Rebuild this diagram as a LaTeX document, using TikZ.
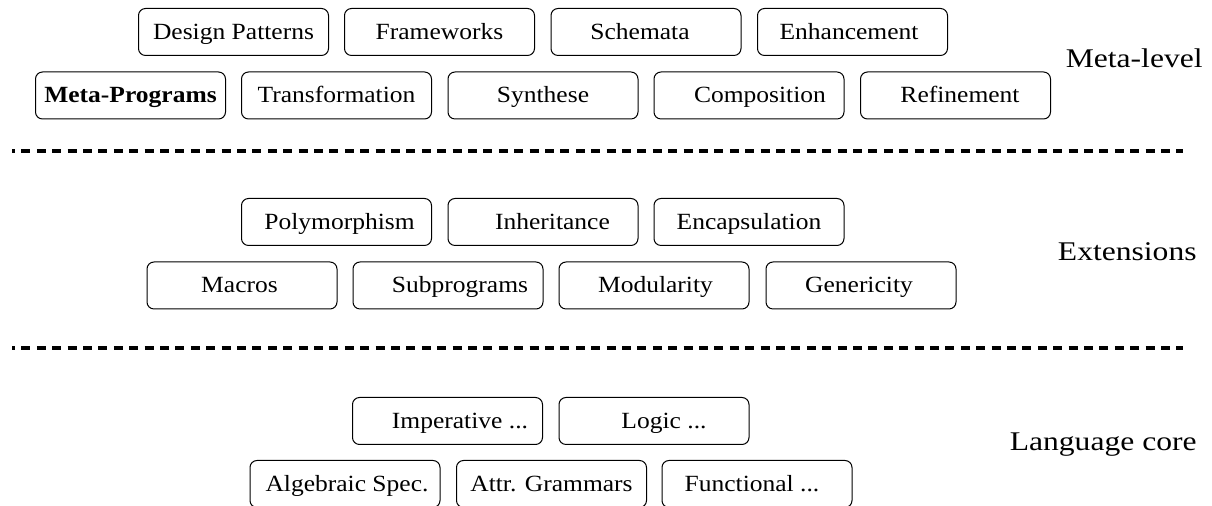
\documentclass[tikz,border=0pt]{standalone}
\usepackage{fontspec}
\usepackage{graphicx}
\setmainfont{Liberation Serif}
% box label: optional horizontal offset, slightly widened text
\newcommand\bx[2][0pt]{\hspace*{#1}\scalebox{1.1}[1]{#2}}
\newcommand\lvl[1]{\scalebox{1.17}[1]{#1}}
\begin{document}
\begin{tikzpicture}[x=0.5pt,y=-0.5pt,
  box/.style={draw, line width=0.5pt, rounded corners=3.5pt,
    minimum width=95pt, minimum height=23.5pt, inner sep=0pt,
    text height=7.5pt, text depth=0pt,
    font=\fontsize{11.6pt}{13pt}\selectfont},
  level/.style={anchor=base east, inner sep=0pt,
    font=\fontsize{13.5pt}{16pt}\selectfont},
  divider/.style={line width=1.6pt, dash pattern=on 4.5pt off 3.2pt, dash phase=3pt}]
\useasboundingbox (0,0) rectangle (1212,506);

% meta-level
\node[box] (dp)  at (233.5,32) {\bx{Design Patterns}};
\node[box] (fw)  at (439.5,32) {\bx{Frameworks}};
\node[box] (sch) at (646,32)   {\bx[-6pt]{Schemata}};
\node[box] (enh) at (852.5,32) {\bx[-3.5pt]{Enhancement}};
\node[box] (mp)  at (130.5,95.5) {\bx{\textbf{Meta-Programs}}};
\node[box] (tr)  at (336.5,95.5) {\bx{Transformation}};
\node[box] (syn) at (543,95.5)   {\bx{Synthese}};
\node[box] (cmp) at (749,95.5)   {\bx[11pt]{Composition}};
\node[box] (ref) at (955.5,95.5) {\bx[4.5pt]{Refinement}};
\node[level] (lmeta) at (1203,68) {\lvl{Meta-level}};

\coordinate (d1a) at (12,151);
\coordinate (d1b) at (1183,151);
\draw[divider] (d1a) -- (d1b);

% extensions
\node[box] (poly) at (336.5,222) {\bx[3pt]{Polymorphism}};
\node[box] (inh)  at (543,222)   {\bx[9.5pt]{Inheritance}};
\node[box] (enc)  at (749,222)   {\bx{Encapsulation}};
\node[box] (mac)  at (242,285.5) {\bx[-2.5pt]{Macros}};
\node[box] (sub)  at (448,285.5) {\bx[12pt]{Subprograms}};
\node[box] (mod)  at (654,285.5) {\bx[1.5pt]{Modularity}};
\node[box] (gen)  at (861,285.5) {\bx[-2pt]{Genericity}};
\node[level] (lext) at (1197,261) {\lvl{Extensions}};

\coordinate (d2a) at (12,348);
\coordinate (d2b) at (1183,348);
\draw[divider] (d2a) -- (d2b);

% language core
\node[box] (imp) at (447.5,421) {\bx[12.5pt]{Imperative ...}};
\node[box] (log) at (654,421)   {\bx[10pt]{Logic ...}};
\node[box] (alg) at (345,484)   {\bx[2pt]{Algebraic Spec.}};
\node[box] (att) at (551.5,484) {\bx{Attr. Grammars}};
\node[box] (fun) at (757,484)   {\bx[-5pt]{Functional ...}};
\node[level] (lcore) at (1197,450.5) {\lvl{Language core}};
\end{tikzpicture}
\end{document}
